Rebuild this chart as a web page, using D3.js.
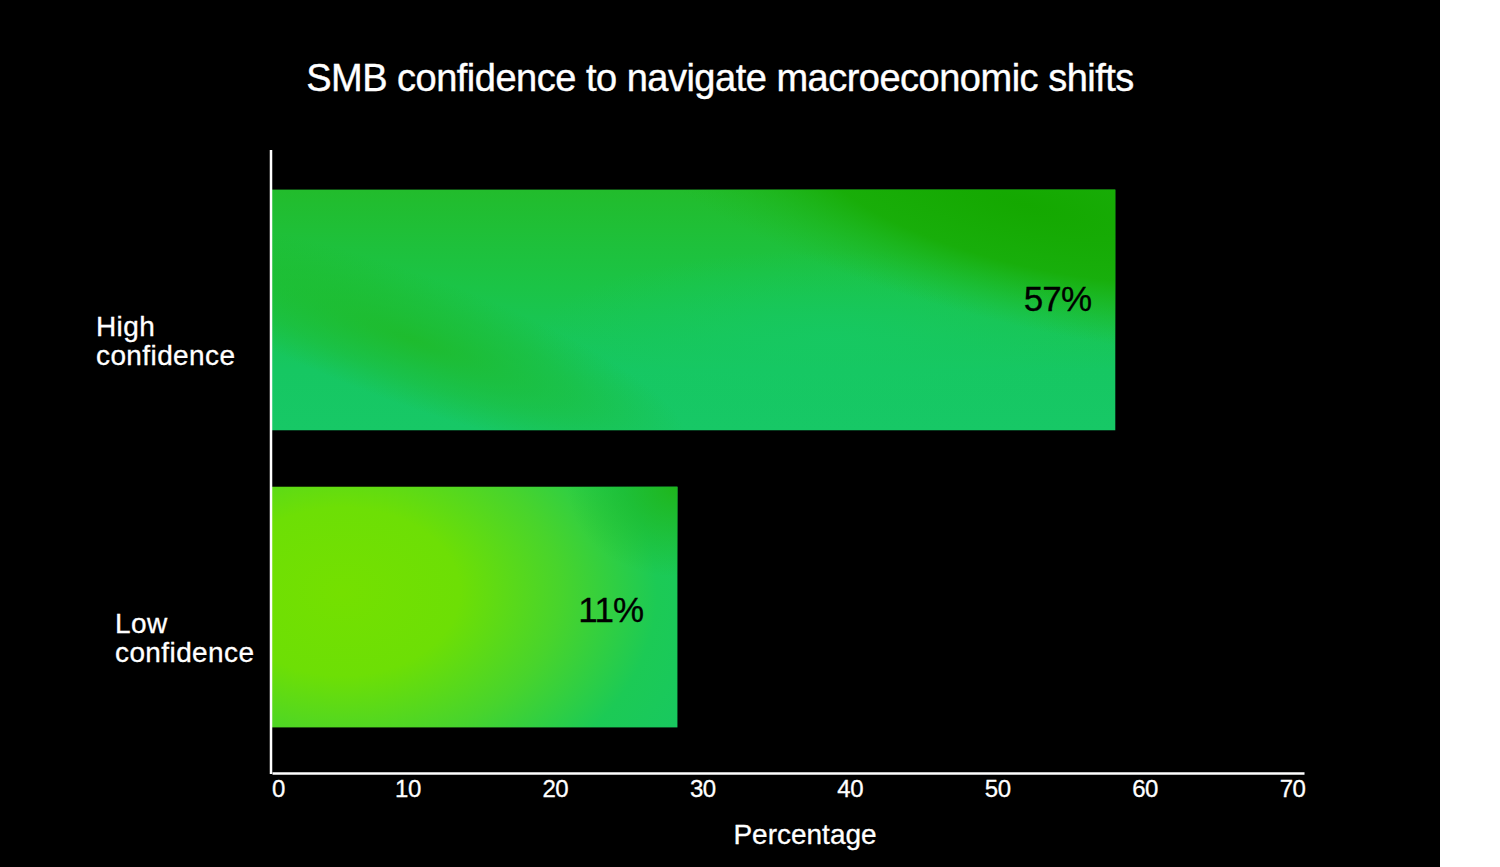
<!DOCTYPE html>
<html>
<head>
<meta charset="utf-8">
<script src="https://cdn.jsdelivr.net/npm/d3@7"></script>
<style>
  html, body { margin: 0; padding: 0; background: #ffffff; }
  svg { display: block; }
</style>
</head>
<body>
<div id="chart"></div>
<script>
// Data
const categories = ["High confidence", "Low confidence"];
const barLengths = [57.2, 27.5];          // bar length as drawn against the axis
const valueLabels = ["57%", "11%"];
const xTicks = [0, 10, 20, 30, 40, 50, 60, 70];

const titleText = "SMB confidence to navigate macroeconomic shifts";
const xAxisTitle = "Percentage";

const width = 1500;
const height = 867;
const panelWidth = 1440;
const fontFamily = "'Liberation Sans', Arial, Helvetica, sans-serif";

const svg = d3.select("#chart")
    .append("svg")
    .attr("width", width)
    .attr("height", height)
    .attr("xmlns", "http://www.w3.org/2000/svg");

// white page, black chart panel
svg.append("rect").attr("width", width).attr("height", height).attr("fill", "#ffffff");
svg.append("rect").attr("width", panelWidth).attr("height", height).attr("fill", "#000000");

// Scales
const xScale = d3.scaleLinear()
    .domain([0, 70])
    .range([272, 1304]);

const yScale = d3.scaleBand()
    .domain(categories)
    .range([148, 769])
    .paddingInner(0.19)
    .paddingOuter(0.14);

const defs = svg.append("defs");

// radial blob helper, user-space coordinates, elongated and rotated
function blob(id, cx, cy, rx, ry, angle, stops) {
    const grad = defs.append("radialGradient")
        .attr("id", id)
        .attr("gradientUnits", "userSpaceOnUse")
        .attr("cx", cx).attr("cy", cy).attr("r", rx)
        .attr("gradientTransform",
            `translate(${cx},${cy}) rotate(${angle}) scale(1,${ry / rx}) translate(${-cx},${-cy})`);
    stops.forEach(s => {
        grad.append("stop")
            .attr("offset", s[0])
            .attr("stop-color", s[1])
            .attr("stop-opacity", s[2]);
    });
    return `url(#${id})`;
}

// bar geometry from the scales
const geo = categories.map((c, i) => ({
    x0: xScale(0),
    x1: xScale(barLengths[i]),
    y0: yScale(c),
    y1: yScale(c) + yScale.bandwidth()
}));

// high bar: spring green base, darker green along the top and a diagonal band on the left
const hg = geo[0];
const highBase = defs.append("linearGradient")
    .attr("id", "high-base")
    .attr("gradientUnits", "userSpaceOnUse")
    .attr("x1", 0).attr("y1", hg.y0)
    .attr("x2", 0).attr("y2", hg.y1);
highBase.append("stop").attr("offset", "0%").attr("stop-color", "#22bc2c");
highBase.append("stop").attr("offset", "40%").attr("stop-color", "#1bc446");
highBase.append("stop").attr("offset", "75%").attr("stop-color", "#16c762");
highBase.append("stop").attr("offset", "100%").attr("stop-color", "#17c866");

const highCorner = blob("high-corner", hg.x1 - 90, hg.y0 + 15, 420, 120, 14, [
    ["0%", "#14a800", 1], ["50%", "#17ab02", 0.85], ["100%", "#1fb820", 0]
]);
const highBand = blob("high-band", hg.x0 + 140, hg.y0 + 150, 290, 65, 20, [
    ["0%", "#20b820", 0.75], ["60%", "#20b820", 0.35], ["100%", "#20b820", 0]
]);
const highGlow = blob("high-glow", hg.x0 + 560, hg.y0 + 150, 300, 90, 0, [
    ["0%", "#16c964", 0.8], ["100%", "#16c964", 0]
]);

// low bar: yellow-green on the left into spring green on the right
const lg = geo[1];
const lowBase = blob("low-base", lg.x0 + 70, lg.y0 + 105, 420, 300, 0, [
    ["0%", "#74e000", 1], ["28%", "#6ddf05", 1], ["52%", "#48d42c", 1],
    ["75%", "#1cca55", 1], ["100%", "#16c764", 1]
]);
const lowCorner = blob("low-corner", lg.x1, lg.y0, 110, 90, 0, [
    ["0%", "#1fb61c", 1], ["100%", "#1fb61c", 0]
]);

const fillLayers = [
    ["url(#high-base)", highGlow, highCorner, highBand],
    [lowBase, lowCorner]
];

// Bars
const bars = svg.append("g")
    .selectAll("g.bar")
    .data(categories)
    .join("g")
    .attr("class", "bar");

bars.each(function (d, i) {
    const g = d3.select(this);
    fillLayers[i].forEach(f => {
        g.append("rect")
            .attr("x", xScale(0))
            .attr("y", yScale(d))
            .attr("width", xScale(barLengths[i]) - xScale(0))
            .attr("height", yScale.bandwidth())
            .attr("fill", f);
    });
});

// Value labels inside the bars
svg.append("g")
    .selectAll("text")
    .data(categories)
    .join("text")
    .attr("x", (d, i) => xScale(barLengths[i]) - (i === 0 ? 24 : 34))
    .attr("y", (d, i) => yScale(d) + yScale.bandwidth() / 2 + (i === 0 ? 1 : 15))
    .attr("text-anchor", "end")
    .attr("fill", "#000000")
    .attr("stroke", "#000000")
    .attr("stroke-width", 0.3)
    .style("font-family", fontFamily)
    .style("font-size", "35px")
    .style("letter-spacing", "-0.8px")
    .text((d, i) => valueLabels[i]);

// Category labels (two lines, left of the axis)
const labelX = [96, 115];
svg.append("g")
    .selectAll("text")
    .data(categories)
    .join("text")
    .attr("fill", "#ffffff")
    .attr("stroke", "#ffffff")
    .attr("stroke-width", 0.3)
    .style("font-family", fontFamily)
    .style("font-size", "28px")
    .style("letter-spacing", "0.4px")
    .each(function (d, i) {
        const words = d.split(" ");
        const cy = yScale(d) + yScale.bandwidth() / 2;
        const t = d3.select(this);
        words.forEach((w, k) => {
            t.append("tspan")
                .attr("x", labelX[i])
                .attr("y", cy + 26 + k * 29)
                .text(w);
        });
    });

// X axis
const xAxis = svg.append("g")
    .attr("transform", "translate(0,773)")
    .call(d3.axisBottom(xScale).tickValues(xTicks).tickSize(0).tickPadding(0));

xAxis.select(".domain")
    .attr("stroke", "#ffffff")
    .attr("stroke-width", 2.5);

xAxis.selectAll(".tick text")
    .attr("fill", "#ffffff")
    .attr("stroke", "#ffffff")
    .attr("stroke-width", 0.3)
    .attr("dy", null)
    .attr("y", 24)
    .attr("dx", d => (d === 0 ? 6 : -12))
    .style("font-family", fontFamily)
    .style("font-size", "24px")
    .style("letter-spacing", "-0.5px");

// Y axis line
svg.append("line")
    .attr("x1", 271).attr("x2", 271)
    .attr("y1", 150).attr("y2", 774)
    .attr("stroke", "#ffffff")
    .attr("stroke-width", 2.5);

// Title
svg.append("text")
    .attr("x", panelWidth / 2)
    .attr("y", 91)
    .attr("text-anchor", "middle")
    .attr("fill", "#ffffff")
    .attr("stroke", "#ffffff")
    .attr("stroke-width", 0.4)
    .style("font-family", fontFamily)
    .style("font-size", "38px")
    .style("letter-spacing", "-0.5px")
    .text(titleText);

// X axis title
svg.append("text")
    .attr("x", 805)
    .attr("y", 844)
    .attr("text-anchor", "middle")
    .attr("fill", "#ffffff")
    .attr("stroke", "#ffffff")
    .attr("stroke-width", 0.3)
    .style("font-family", fontFamily)
    .style("font-size", "28px")
    .text(xAxisTitle);
</script>
</body>
</html>
